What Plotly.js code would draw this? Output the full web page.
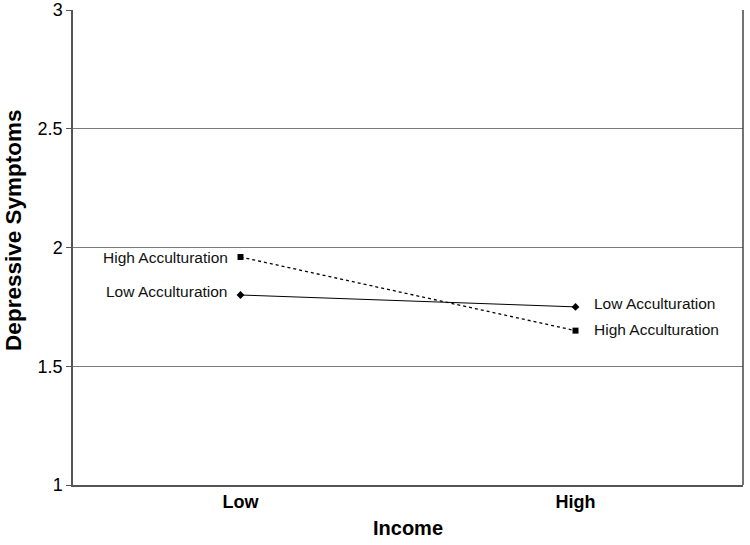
<!DOCTYPE html>
<html>
<head>
<meta charset="utf-8">
<script src="https://cdn.plot.ly/plotly-3.0.1.min.js"></script>
<style>
  html, body { margin: 0; padding: 0; background: #fff; }
  #plot { width: 750px; height: 545px; }
</style>
</head>
<body>
<div id="plot"></div>
<script>
const income = ["Low", "High"];
const lowAcc = [1.80, 1.75];
const highAcc = [1.96, 1.65];
const yTicks = [1, 1.5, 2, 2.5, 3];
const yTickText = ["1", "1.5", "2", "2.5", "3"];

const FONT = "Liberation Sans, Arial, sans-serif";

const lowTrace = {
  x: income,
  y: lowAcc,
  mode: "lines+markers",
  type: "scatter",
  name: "Low Acculturation",
  line: { color: "#000", width: 1 },
  marker: { symbol: "diamond", size: 6, color: "#000" }
};

const highTrace = {
  x: income,
  y: highAcc,
  mode: "lines+markers",
  type: "scatter",
  name: "High Acculturation",
  line: { color: "#000", width: 1.3, dash: "dot" },
  marker: { symbol: "square", size: 6, color: "#000" }
};

// point labels: left of the Low points, right of the High points
function labelsFor(series, label, yShifts) {
  return series.map((v, i) => ({
    x: income[i],
    y: v,
    text: label,
    showarrow: false,
    xanchor: i === 0 ? "right" : "left",
    xshift: i === 0 ? -11 : 16,
    yshift: yShifts[i],
    font: { family: FONT, size: 15.5, color: "#111" }
  }));
}

const annotations = [
  ...labelsFor(lowAcc, "Low Acculturation", [4, 3]),
  ...labelsFor(highAcc, "High Acculturation", [0, 1]),
  {
    xref: "paper", yref: "paper",
    x: 0, y: 0.535,
    xanchor: "center", yanchor: "middle",
    xshift: -59,
    text: "<b>Depressive Symptoms</b>",
    textangle: -90,
    showarrow: false,
    font: { family: FONT, size: 22.5, color: "#000" }
  }
];

Plotly.newPlot(
  "plot",
  [lowTrace, highTrace],
  {
    width: 750,
    height: 545,
    margin: { l: 73, r: 7, t: 10, b: 60 },
    showlegend: false,
    paper_bgcolor: "#fff",
    plot_bgcolor: "#fff",
    font: { family: FONT, color: "#000" },
    xaxis: {
      type: "category",
      range: [-0.5, 1.5],
      showgrid: false,
      showline: true,
      linecolor: "#555",
      linewidth: 1.5,
      ticks: "",
      tickfont: { size: 18, family: FONT, weight: "bold" },
      title: { text: "<b>Income</b>", font: { size: 20 }, standoff: 10 }
    },
    yaxis: {
      range: [1, 3],
      tickvals: yTicks,
      ticktext: yTickText,
      showgrid: true,
      gridcolor: "#7a7a7a",
      gridwidth: 1,
      zeroline: false,
      showline: true,
      linecolor: "#555",
      linewidth: 1.5,
      ticks: "outside",
      ticklen: 5,
      tickcolor: "#555",
      tickfont: { size: 18 }
    },
    shapes: [{
      type: "line", xref: "paper", yref: "paper",
      x0: 1, x1: 1, y0: 0, y1: 1,
      line: { color: "#444", width: 1.5 }
    }],
    annotations: annotations
  },
  { displayModeBar: false }
);
</script>
</body>
</html>
